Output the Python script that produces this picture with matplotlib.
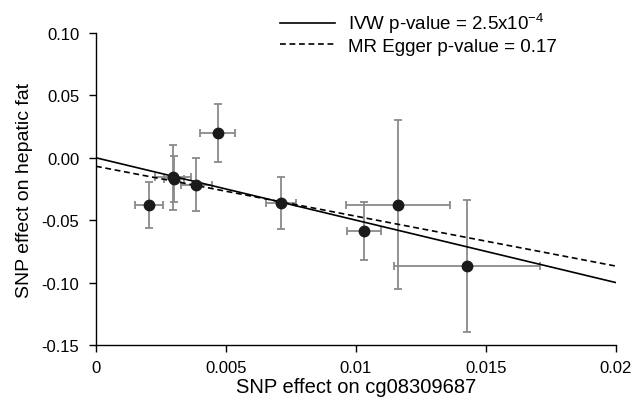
import matplotlib
matplotlib.use("Agg")
import matplotlib.pyplot as plt
import numpy as np

plt.rcParams['font.family'] = ['Liberation Sans', 'DejaVu Sans']
plt.rcParams['mathtext.fontset'] = 'custom'
plt.rcParams['mathtext.rm'] = 'Liberation Sans'
plt.rcParams['mathtext.it'] = 'Liberation Sans:italic'
plt.rcParams['mathtext.bf'] = 'Liberation Sans:bold'
plt.rcParams['mathtext.default'] = 'regular'

# SNP effects on exposure (x) and outcome (y) with standard errors
snp_x = [0.00203, 0.00295, 0.00300, 0.00385, 0.00468, 0.00713, 0.01031, 0.01162, 0.01428]
snp_x_err = [0.00053, 0.00070, 0.00040, 0.00060, 0.00068, 0.00058, 0.00066, 0.00200, 0.00280]
snp_y = [-0.0378, -0.0156, -0.0170, -0.0216, 0.0199, -0.0362, -0.0584, -0.0378, -0.0865]
snp_y_err = [0.0181, 0.0262, 0.0185, 0.0213, 0.0234, 0.0212, 0.0233, 0.0677, 0.0530]

# Regression lines: (intercept, slope)
ivw_line = (0.0, -5.0)
egger_line = (-0.0068, -4.0)
line_x = [0.0, 0.02]

legend_labels = [r"IVW p-value = 2.5x10$^{-4}$", "MR Egger p-value = 0.17"]
x_ticks = [0, 0.005, 0.01, 0.015, 0.02]
x_tick_labels = ["0", "0.005", "0.01", "0.015", "0.02"]
y_ticks = [0.10, 0.05, 0.00, -0.05, -0.10, -0.15]
y_tick_labels = ["0.10", "0.05", "0.00", "-0.05", "-0.10", "-0.15"]

fig = plt.figure(figsize=(6.35, 4.02), dpi=100)
ax = fig.add_axes([96/635, 1-346/402, 520/635, 312/402])

lx = np.array(line_x)
l1, = ax.plot(lx, ivw_line[0] + ivw_line[1]*lx, color='black', lw=1.2, zorder=2)
l2, = ax.plot(lx, egger_line[0] + egger_line[1]*lx, color='black', lw=1.2,
              dashes=(3.5, 2.2), zorder=2)

ax.errorbar(snp_x, snp_y, xerr=snp_x_err, yerr=snp_y_err, fmt='none',
            ecolor='#8a8a8a', elinewidth=1.3, capsize=3, capthick=1.3, zorder=1)
ax.plot(snp_x, snp_y, 'o', color='#1a1a1a', markersize=7.5, zorder=3)

ax.set_xlim(0, 0.02)
ax.set_ylim(-0.15, 0.10)
ax.set_xticks(x_ticks)
ax.set_xticklabels(x_tick_labels)
ax.set_yticks(y_ticks)
ax.set_yticklabels(y_tick_labels)
ax.tick_params(axis='both', direction='out', length=5, width=1, labelsize=12, colors='black')
ax.tick_params(axis='x', pad=6)
ax.tick_params(axis='y', pad=7)
for s in ['top', 'right']:
    ax.spines[s].set_visible(False)
for s in ['left', 'bottom']:
    ax.spines[s].set_linewidth(1.0)

ax.set_xlabel("SNP effect on cg08309687", fontsize=14.5, labelpad=1)
ax.set_ylabel("SNP effect on hepatic fat", fontsize=14, labelpad=6)

leg = fig.legend([l1, l2], legend_labels, loc='upper left',
                 bbox_to_anchor=(263/635, 1.012), frameon=False, fontsize=13.5,
                 handlelength=2.95, handletextpad=0.7, labelspacing=0.12)

fig.savefig("out.png", dpi=100)
